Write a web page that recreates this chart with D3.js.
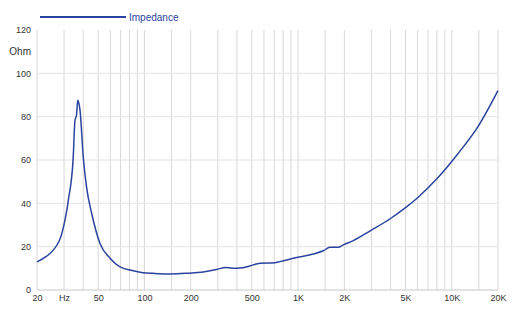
<!DOCTYPE html>
<meta charset="utf-8">
<style>
body { margin: 0; background: #fff; font-family: 'Liberation Sans', Arial, sans-serif; }
.tick text { fill: #333; font-size: 9px; }
</style>
<script src="https://d3js.org/d3.v7.min.js"></script>
<div id="chart"></div>
<script>
// impedance curve
var freq = [20, 23, 25.5, 29, 32, 34.4, 35.3, 36.2, 36.8, 37.5, 38.1, 40, 42, 45.4, 51.4, 59.7, 69.4, 84.7, 98, 114, 147, 188, 242, 295, 340, 388, 419, 480, 565, 706, 762, 978, 1256, 1458, 1612, 1826, 1968, 2286, 3000, 4000, 5000, 6000, 8000, 11000, 15000, 20000];
var impedance = [13, 15.5, 18.4, 26, 41.5, 61, 78, 81, 87.6, 86, 83, 61.4, 47.6, 35.3, 21.5, 14.7, 10.7, 8.9, 8.0, 7.7, 7.4, 7.7, 8.3, 9.5, 10.4, 10.0, 10.1, 11, 12.4, 12.6, 13.1, 15, 16.6, 18.1, 19.7, 19.7, 20.8, 22.8, 27.6, 33, 38, 42.6, 51.3, 63, 76, 92];

var gridFreqs = [20, 30, 40, 50, 60, 70, 80, 90, 100, 150, 200, 300, 400, 500, 600, 700, 800, 900, 1000, 1500, 2000, 3000, 4000, 5000, 6000, 7000, 8000, 9000, 10000, 15000, 20000];
var xLabelFreqs = [20, 30, 50, 100, 200, 500, 1000, 2000, 5000, 10000, 20000];
var xLabels = ["20", "Hz", "50", "100", "200", "500", "1K", "2K", "5K", "10K", "20K"];
var yTicks = [0, 20, 40, 60, 80, 100, 120];
var yLabels = ["0", "20", "40", "60", "80", "100", "120"];

var W = 522, H = 321;
var x = d3.scaleLog().domain([20, 20000]).range([37, 498]);
var y = d3.scaleLinear().domain([0, 120]).range([290, 30]);

var svg = d3.select("#chart").append("svg").attr("width", W).attr("height", H);

// vertical grid
svg.append("g").selectAll("line").data(gridFreqs).enter().append("line")
  .attr("x1", function(d) { return x(d); }).attr("x2", function(d) { return x(d); })
  .attr("y1", y(120)).attr("y2", y(0))
  .style("stroke", "#d8d8d8").style("stroke-width", 1);

// horizontal grid
svg.append("g").selectAll("line").data([20, 40, 60, 80, 100]).enter().append("line")
  .attr("x1", x(20)).attr("x2", x(20000))
  .attr("y1", function(d) { return y(d); }).attr("y2", function(d) { return y(d); })
  .style("stroke", "#e4e4e4").style("stroke-width", 1);

// baseline
svg.append("line").attr("x1", x(20)).attr("x2", x(20000)).attr("y1", y(0)).attr("y2", y(0))
  .style("stroke", "#c8c8c8");

// y axis labels
var yAxis = d3.axisLeft(y).tickValues(yTicks).tickSize(0).tickPadding(0)
  .tickFormat(function(d, i) { return yLabels[i]; });
svg.append("g").attr("transform", "translate(31,0)").call(yAxis)
  .call(function(g) { g.select(".domain").remove(); });

svg.append("text").attr("x", 31).attr("y", y(110)).attr("dy", "0.32em")
  .attr("text-anchor", "end").style("font-size", "10px").style("fill", "#333").text("Ohm");

// x axis labels
var xAxis = d3.axisBottom(x).tickValues(xLabelFreqs).tickSize(0).tickPadding(5)
  .tickFormat(function(d, i) { return xLabels[i]; });
svg.append("g").attr("transform", "translate(0," + y(0) + ")").call(xAxis)
  .call(function(g) { g.select(".domain").remove(); });

// curve
var line = d3.line()
  .x(function(d, i) { return x(freq[i]); })
  .y(function(d) { return y(d); })
  .curve(d3.curveMonotoneX);

svg.append("path").datum(impedance)
  .attr("d", line)
  .style("fill", "none").style("stroke", "#2b43a0").style("stroke-width", 1.5);

// legend
svg.append("line").attr("x1", 40).attr("x2", 126).attr("y1", 17).attr("y2", 17)
  .style("stroke", "#2b43a0").style("stroke-width", 2);
svg.append("text").attr("x", 129).attr("y", 17).attr("dy", "0.35em")
  .style("font-size", "10px").style("fill", "#2b43a0").text("Impedance");
</script>
